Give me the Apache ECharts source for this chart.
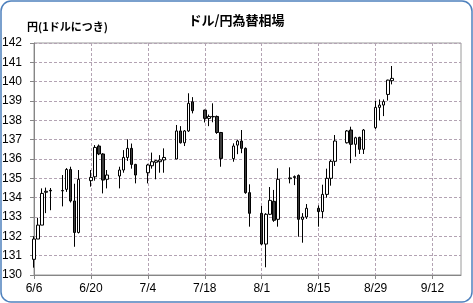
<!DOCTYPE html>
<html>
<head>
<meta charset="utf-8">
<script src="https://cdn.jsdelivr.net/npm/echarts@6/dist/echarts.min.js"></script>
<style>
html,body{margin:0;padding:0;background:#fff;}
#c{width:473px;height:303px;}
</style>
</head>
<body>
<div id="c"></div>
<script>
// Trading days (2022)
var dates = ["6/6","6/7","6/8","6/9","6/10","6/13","6/14","6/15","6/16","6/17",
  "6/20","6/21","6/22","6/23","6/24","6/27","6/28","6/29","6/30",
  "7/1","7/4","7/5","7/6","7/7","7/8","7/11","7/12","7/13","7/14","7/15",
  "7/18","7/19","7/20","7/21","7/22","7/25","7/26","7/27","7/28","7/29",
  "8/1","8/2","8/3","8/4","8/5","8/8","8/9","8/10","8/11","8/12",
  "8/15","8/16","8/17","8/18","8/19","8/22","8/23","8/24","8/25","8/26",
  "8/29","8/30","8/31","9/1","9/2"];
var openV = [130.81,131.86,132.58,134.28,134.38,134.35,134.43,135.46,133.83,132.2,
  134.88,135.08,136.67,136.26,134.95,135.12,135.43,136.08,136.55,
  135.72,135.29,135.65,135.83,135.86,135.95,136.0,137.45,136.84,137.45,138.96,
  138.53,138.1,138.2,138.2,137.37,136.02,136.72,136.93,136.55,134.26,
  133.19,131.6,133.14,133.81,132.88,134.98,135.04,135.15,132.88,133.0,
  133.45,133.28,134.17,135.0,135.88,136.84,137.5,136.76,137.12,136.5,
  137.62,138.67,138.79,139.34,140.05];
var closeV = [131.86,132.58,134.22,134.33,134.35,134.37,135.46,133.83,132.2,134.95,
  135.05,136.6,136.26,134.91,135.17,135.43,136.08,136.55,135.72,
  135.17,135.69,135.86,135.91,135.95,136.08,137.45,136.84,137.45,138.88,138.5,
  138.1,138.2,138.18,137.37,136.03,136.67,136.93,136.55,134.26,133.19,
  131.6,133.14,133.86,132.83,134.95,135.02,135.09,132.88,133.0,133.45,
  133.28,134.17,135.0,135.88,136.93,137.45,136.76,137.1,136.5,137.5,
  138.67,138.79,138.97,140.08,140.17];
var lowV = [130.38,131.86,132.58,133.2,133.35,133.55,134.3,133.75,131.46,132.15,
  134.57,134.88,136.2,134.22,134.48,134.48,135.29,135.9,135.5,
  134.74,134.74,135.5,134.95,135.29,135.29,136.0,136.8,136.67,137.4,138.36,
  137.89,137.7,137.9,137.3,135.6,135.86,136.25,136.3,134.2,132.5,
  131.55,130.4,133.1,132.75,132.5,134.74,134.65,131.98,131.67,132.9,
  132.5,132.93,134.0,134.62,135.64,136.8,135.78,136.12,136.26,136.26,
  137.55,138.0,138.22,139.02,139.86];
var highV = [132.0,132.96,134.48,134.52,134.5,135.17,135.53,135.6,134.72,135.43,
  135.43,136.72,136.75,136.3,135.43,135.6,136.46,137.02,136.8,
  135.75,135.75,136.33,135.95,136.2,136.55,137.76,137.7,137.5,139.4,139.2,
  138.55,138.3,138.88,138.25,137.4,136.81,137.0,137.5,136.6,134.69,
  133.57,133.2,134.55,134.4,135.52,135.57,135.15,135.2,133.2,133.67,
  133.6,134.67,135.5,135.95,137.24,137.5,137.67,137.15,137.15,137.55,
  139.0,139.08,139.08,140.1,140.81];
var xTickLabels = ["6/6","6/20","7/4","7/18","8/1","8/15","8/29","9/12"];
var yMin = 130, yMax = 142, yStep = 1;
var titleText = "ドル/円為替相場";
var yAxisName = "円(1ドルにつき)";

// Build calendar category axis (6/6 .. 9/19)
var days = [];
var d = new Date(2022, 5, 6);
var end = new Date(2022, 8, 19);
while (d <= end) {
  days.push((d.getMonth() + 1) + "/" + d.getDate());
  d.setDate(d.getDate() + 1);
}
var idx = {};
dates.forEach(function (s, i) { idx[s] = i; });
var kData = days.map(function (s) {
  var i = idx[s];
  if (i === undefined) return '-';
  return [openV[i], closeV[i], lowV[i], highV[i]];
});
function isTick(i) { return xTickLabels.indexOf(days[i]) >= 0; }

var chart = echarts.init(document.getElementById('c'), null, {renderer: 'canvas'});
chart.setOption({
  animation: false,
  backgroundColor: '#fff',
  title: {
    text: titleText, left: 'center', top: 9,
    textStyle: {fontFamily: 'Noto Sans CJK JP', fontSize: 13, fontWeight: 'bold', color: '#000'}
  },
  grid: {left: 34, right: 12, top: 43, bottom: 28, containLabel: false, outerBoundsMode: 'none',
    show: true, borderColor: '#9a9a9a', borderWidth: 1},
  xAxis: {
    type: 'category', data: days, boundaryGap: false,
    axisLine: {lineStyle: {color: '#868686'}},
    axisTick: {show: true, length: 4, interval: function (i) { return isTick(i); }, lineStyle: {color: '#868686'}},
    axisLabel: {interval: function (i) { return isTick(i); }, margin: 8, fontSize: 12,
      fontFamily: 'Liberation Sans', color: '#000'},
    splitLine: {show: true, interval: function (i) { return isTick(i); },
      lineStyle: {color: '#b3a3b3', type: [3, 2], width: 1}}
  },
  yAxis: {
    type: 'value', min: yMin, max: yMax, interval: yStep,
    name: yAxisName, nameLocation: 'end', nameGap: 11,
    nameTextStyle: {align: 'left', padding: [0, 0, 0, -7], fontFamily: 'Noto Sans CJK JP',
      fontSize: 11, fontWeight: 'bold', color: '#000'},
    axisLine: {show: true, lineStyle: {color: '#868686'}},
    axisTick: {show: true, length: 4, lineStyle: {color: '#868686'}},
    axisLabel: {margin: 12, fontSize: 12, fontFamily: 'Liberation Sans', color: '#000'},
    splitLine: {show: true, lineStyle: {color: '#b3a3b3', type: [3, 2], width: 1}}
  },
  series: [{
    type: 'candlestick',
    data: kData,
    barWidth: 3,
    itemStyle: {color: '#ffffff', color0: '#3c3c3c', borderColor: '#000', borderColor0: '#000', borderWidth: 1}
  }],
  graphic: [{
    type: 'rect', silent: true, z: 100,
    shape: {x: 1, y: 1, width: 471, height: 301, r: 10},
    style: {fill: 'none', stroke: '#4f81bd', lineWidth: 1.5}
  }]
});
</script>
</body>
</html>
